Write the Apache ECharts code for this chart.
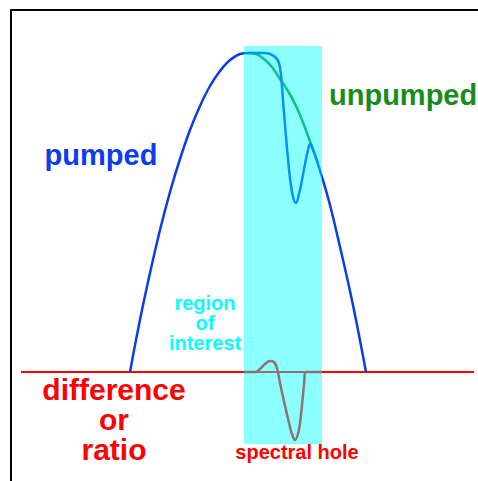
<!DOCTYPE html>
<html>
<head>
<meta charset="utf-8">
<script src="https://cdn.jsdelivr.net/npm/echarts@6/dist/echarts.min.js"></script>
<style>
html,body{margin:0;padding:0;background:#fff;}
#chart{width:478px;height:481px;}
</style>
</head>
<body>
<div id="chart"></div>
<script>
// Data (x: spectral position, y: signal)
const pumpedX = [119,125,131,139,149,159,169,179,189,199,209,219,229,237,245,253,259,265,268,270,272,274,276,279,282,285,288,291,294,297,299,301,305,311,319,329,339,347,355];
const pumpedY = [0,32,62,99,142,180,213,242,266,286,301,312,318,319,319,319,318,314,309,297,272,247,224,194,175,169,178,192,208,222,228,225,214,195,167,125,81,42,0];
const unpumpedX = [237,245,253,261,269,277,285,293,301,307];
const unpumpedY = [319,318,313,305,293,281,266,247,225,209];
const diffX = [233,244,249,254,259,263,266,269,272,275,278,281,284,287,289,291,293,295,311];
const diffY = [0,0,3,8,11,10,4,-11,-25,-38,-51,-62,-68,-62,-51,-33,-13,0,0];
const baselineX = [10,463];
const baselineY = [0,0];
const regionX = [233,311];
const regionY = [-72,326];

const zip = (a,b) => a.map((v,i)=>[v,b[i]]);

const chart = echarts.init(document.getElementById('chart'), null, {renderer:'svg'});
const font = '"Liberation Sans", Arial, sans-serif';
chart.setOption({
  animation:false,
  backgroundColor:'#ffffff',
  grid:{left:11, top:10, right:0, bottom:0, containLabel:false, outerBoundsMode:'none'},
  xAxis:{type:'value', position:'top', min:0, max:467,
    axisLine:{show:true, onZero:false, lineStyle:{color:'#000', width:2}},
    axisTick:{show:false}, axisLabel:{show:false}, splitLine:{show:false}},
  yAxis:{type:'value', min:-109, max:362,
    axisLine:{show:true, onZero:false, lineStyle:{color:'#000', width:2}},
    axisTick:{show:false}, axisLabel:{show:false}, splitLine:{show:false}},
  series:[
    {type:'line', name:'baseline', data:zip(baselineX,baselineY), showSymbol:false, z:2,
      lineStyle:{color:'#ff0000', width:2}},
    {type:'line', name:'difference', data:zip(diffX,diffY), showSymbol:false, smooth:0.4, z:3,
      lineStyle:{color:'#ff0000', width:2.5}},
    {type:'line', name:'unpumped', data:zip(unpumpedX,unpumpedY), showSymbol:false, smooth:0.4, z:3,
      lineStyle:{color:'#1a8c1a', width:2.5}},
    {type:'line', name:'pumped', data:zip(pumpedX,pumpedY), showSymbol:false, smooth:0.4, z:4,
      lineStyle:{color:'#0a3ce8', width:2.5}},
    {type:'custom', name:'region', z:10, silent:true,
      data:[[regionX[0], regionX[1], regionY[0], regionY[1]]],
      encode:{x:[0,1], y:[2,3]},
      renderItem:function(params, api){
        const p0 = api.coord([api.value(0), api.value(3)]);
        const p1 = api.coord([api.value(1), api.value(2)]);
        return {type:'rect', shape:{x:p0[0], y:p0[1], width:p1[0]-p0[0], height:p1[1]-p0[1]},
          style:{fill:'rgba(0,255,255,0.45)'}};
      }}
  ],
  graphic:[
    {type:'text', x:101, y:155, z:20, style:{text:'pumped', font:'bold 29px '+font, fill:'#0a3cf0', align:'center', verticalAlign:'middle'}},
    {type:'text', x:329, y:95, z:20, style:{text:'unpumped', font:'bold 29px '+font, fill:'#1a8c1a', align:'left', verticalAlign:'middle'}},
    {type:'text', x:205, y:323, z:20, style:{text:'region\nof\ninterest', font:'bold 20px '+font, lineHeight:20, fill:'#00ffff', align:'center', verticalAlign:'middle'}},
    {type:'text', x:114, y:419, z:20, style:{text:'difference\nor\nratio', font:'bold 30px '+font, lineHeight:30, fill:'#ff0000', align:'center', verticalAlign:'middle'}},
    {type:'text', x:297, y:452, z:20, style:{text:'spectral hole', font:'bold 20px '+font, fill:'#ff0000', align:'center', verticalAlign:'middle'}}
  ]
});
</script>
</body>
</html>
